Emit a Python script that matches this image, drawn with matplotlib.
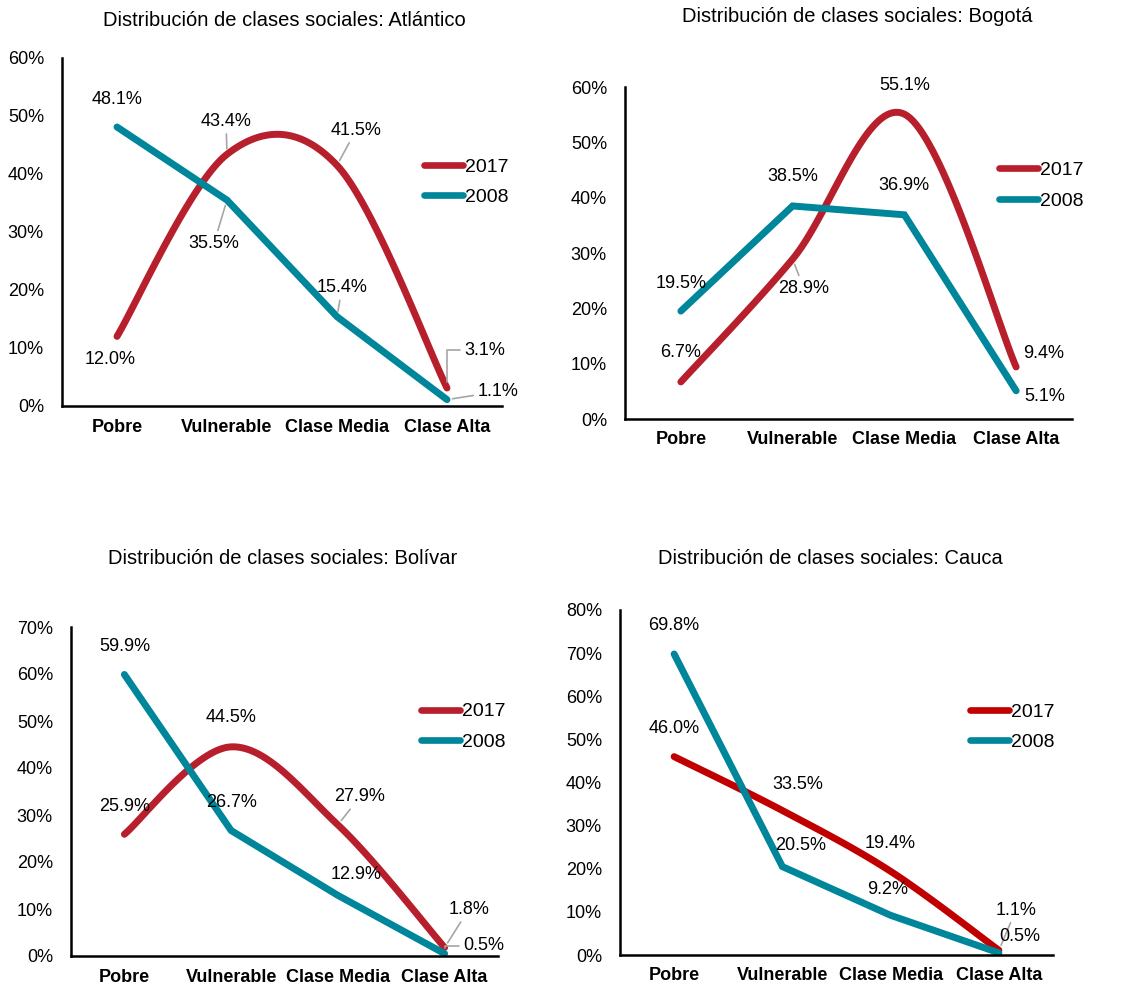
import numpy as np
import matplotlib
matplotlib.use("Agg")
import matplotlib.pyplot as plt
from matplotlib.ticker import PercentFormatter, MultipleLocator

plt.rcParams['font.family'] = ['Liberation Sans', 'DejaVu Sans']

# datos (porcentaje)
categorias = ['Pobre', 'Vulnerable', 'Clase Media', 'Clase Alta']
anios = ['2017', '2008']

atlantico_2017 = [12.0, 43.4, 41.5, 3.1]
atlantico_2008 = [48.1, 35.5, 15.4, 1.1]
bogota_2017 = [6.7, 28.9, 55.1, 9.4]
bogota_2008 = [19.5, 38.5, 36.9, 5.1]
bolivar_2017 = [25.9, 44.5, 27.9, 1.8]
bolivar_2008 = [59.9, 26.7, 12.9, 0.5]
cauca_2017 = [46.0, 33.5, 19.4, 1.1]
cauca_2008 = [69.8, 20.5, 9.2, 0.5]

W, H = 1123, 990
ROJO = '#B71F2D'
ROJO_CAUCA = '#C00000'
TEAL = '#00869B'
GRIS = '#A6A6A6'

fig = plt.figure(figsize=(W / 100, H / 100), dpi=100)


def smooth(y, n=40):
    # curva suavizada tipo Excel (Bezier / Catmull-Rom) a traves de los puntos
    x = np.arange(len(y), dtype=float)
    P = np.column_stack([x, np.asarray(y, float)])
    ext = np.vstack([P[0], P, P[-1]])
    out = [P[0]]
    t = np.linspace(0, 1, n)[1:, None]
    for i in range(len(P) - 1):
        p0, p3 = ext[i + 1], ext[i + 2]
        c1 = p0 + (ext[i + 2] - ext[i]) / 6
        c2 = p3 - (ext[i + 3] - ext[i + 1]) / 6
        seg = ((1 - t) ** 3) * p0 + 3 * ((1 - t) ** 2) * t * c1 + 3 * (1 - t) * t ** 2 * c2 + t ** 3 * p3
        out.extend(seg)
    out = np.array(out)
    return out[:, 0], out[:, 1]


def panel(box, titulo, tpos, ymax, s17, s08, rojo, leg, lab17, lab08):
    l, t, r, b = box
    ax = fig.add_axes([l / W, 1 - b / H, (r - l) / W, (b - t) / H])
    xs, ys = smooth(s17)
    ax.plot(xs, ys, color=rojo, lw=5, solid_capstyle='round', label=anios[0])
    ax.plot(range(len(s08)), s08, color=TEAL, lw=5, solid_capstyle='round',
            solid_joinstyle='miter', label=anios[1])
    ax.set_xlim(-0.5, len(categorias) - 0.5)
    ax.set_ylim(0, ymax)
    ax.set_xticks(range(len(categorias)))
    ax.set_xticklabels(categorias, fontweight='bold', fontsize=13)
    ax.yaxis.set_major_locator(MultipleLocator(10))
    ax.yaxis.set_major_formatter(PercentFormatter(xmax=100, decimals=0))
    ax.tick_params(axis='y', length=0, pad=13, labelsize=13)
    ax.tick_params(axis='x', length=0, pad=9)
    for s in ['top', 'right']:
        ax.spines[s].set_visible(False)
    for s in ['left', 'bottom']:
        ax.spines[s].set_linewidth(1.8)
        ax.spines[s].set_color('black')
    ax.patch.set_alpha(0)
    fig.text(tpos[0] / W, 1 - tpos[1] / H, titulo, ha='center', va='center', fontsize=14.5)

    for serie, labs in ((s17, lab17), (s08, lab08)):
        for i, v in enumerate(serie):
            dx, dy, lider = labs[i]
            kw = {}
            if lider == 'l':
                kw['arrowprops'] = dict(arrowstyle='-', color=GRIS, lw=1.2, shrinkA=1, shrinkB=4)
            elif lider == 'c':
                kw['arrowprops'] = dict(arrowstyle='-', color=GRIS, lw=1.2, shrinkA=1, shrinkB=4,
                                        connectionstyle='angle,angleA=0,angleB=90,rad=0')
            ax.annotate(f'{v:.1f}%', (i, v), xytext=(dx, dy), textcoords='offset pixels',
                        ha='center', va='center', fontsize=13, **kw)

    lg = ax.legend(loc='center left', bbox_to_anchor=leg, frameon=False, fontsize=14,
                   handlelength=2.0, handletextpad=0.1, labelspacing=0.65, borderpad=0,
                   borderaxespad=0)
    for h in lg.get_lines():
        h.set_linewidth(4.8)
    return ax


# offsets de las etiquetas en pixeles (dx, dy, lider)
panel((62, 58, 502, 406), 'Distribución de clases sociales: Atlántico', (284, 20), 60,
      atlantico_2017, atlantico_2008, ROJO, (0.823, 0.644),
      [(-7, -23, ''), (-1, 33, 'l'), (19, 35, 'l'), (38, 38, 'c')],
      [(0, 28, ''), (-13, -43, 'l'), (5, 29, 'l'), (51, 8, 'l')])

panel((625, 87, 1072, 419), 'Distribución de clases sociales: Bogotá', (857, 17), 60,
      bogota_2017, bogota_2008, ROJO, (0.836, 0.703),
      [(0, 29, ''), (11, -29, 'l'), (0, 29, ''), (27, 13, '')],
      [(0, 28, ''), (0, 29, ''), (0, 29, ''), (29, -6, '')])

panel((71, 627, 498, 956), 'Distribución de clases sociales: Bolívar', (283, 558), 70,
      bolivar_2017, bolivar_2008, ROJO, (0.82, 0.697),
      [(0, 28, ''), (0, 29, ''), (22, 28, 'l'), (24, 38, 'l')],
      [(0, 28, ''), (0, 28, ''), (18, 21, ''), (39, 8, 'c')])

panel((620, 610, 1053, 955), 'Distribución de clases sociales: Cauca', (830, 559), 80,
      cauca_2017, cauca_2008, ROJO_CAUCA, (0.808, 0.66),
      [(0, 28, ''), (15, 26, ''), (-1, 28, ''), (17, 40, 'l')],
      [(0, 28, ''), (18, 21, ''), (-3, 26, ''), (21, 16, '')])

fig.savefig('out.png', dpi=100)
